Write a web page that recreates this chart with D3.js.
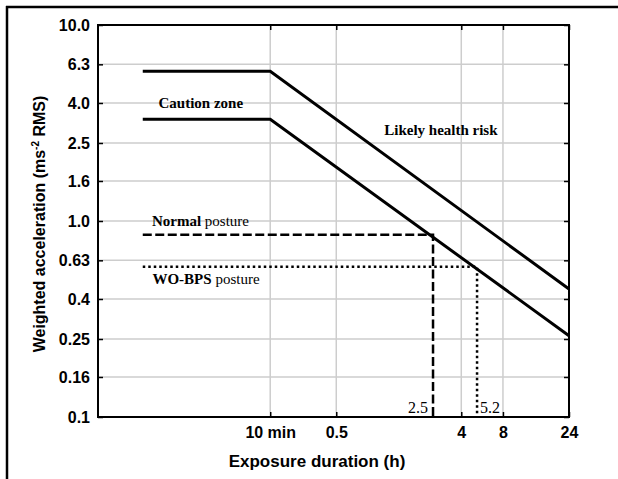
<!DOCTYPE html>
<html>
<head>
<meta charset="utf-8">
<script src="https://cdnjs.cloudflare.com/ajax/libs/d3/7.8.5/d3.min.js"></script>
<style>
  body { margin: 0; background: #fff; }
  .sans { font-family: "Liberation Sans", Arial, sans-serif; font-weight: bold; }
  .serif { font-family: "Liberation Serif", "Times New Roman", serif; }
</style>
</head>
<body>
<script>

// exposure limits, x in hours, y in m/s^2
var upperLine = [[0.02, 5.8], [1/6, 5.8], [24, 0.45]];
var lowerLine = [[0.02, 3.3], [1/6, 3.3], [24, 0.26]];
var normalPosture = [[0.02, 0.85], [2.5, 0.85], [2.5, 0.1]];
var woBpsPosture = [[0.02, 0.585], [5.2, 0.585], [5.2, 0.1]];

var yTicks = [0.1, 0.16, 0.25, 0.4, 0.63, 1.0, 1.6, 2.5, 4.0, 6.3, 10.0];
var yLabels = ["0.1", "0.16", "0.25", "0.4", "0.63", "1.0", "1.6", "2.5", "4.0", "6.3", "10.0"];
var xTicks = [1/6, 0.5, 4, 8, 24];
var xLabels = ["10 min", "0.5", "4", "8", "24"];

const w = 618, h = 479;
const margin = {top: 25, right: 49, bottom: 62, left: 98};
const width = w - margin.left - margin.right,
    height = h - margin.top - margin.bottom;

const svg = d3.select("body").append("svg")
    .attr("width", w)
    .attr("height", h);

// outer frame (top + left only)
svg.append("path")
    .attr("d", "M6,7H618M7,6V479")
    .attr("fill", "none")
    .attr("stroke", "#000")
    .attr("stroke-width", 2.5);

const g = svg.append("g")
    .attr("transform", "translate(" + margin.left + "," + margin.top + ")");

var x = d3.scaleLog().domain([0.0095, 24]).range([0, width]);
var y = d3.scaleLog().domain([0.1, 10]).range([height, 0]);

// grid
g.append("g").selectAll("line")
    .data(yTicks.slice(1, -1))
    .join("line")
    .attr("x1", 0).attr("x2", width)
    .attr("y1", d => y(d)).attr("y2", d => y(d))
    .attr("stroke", "#cdcdcd").attr("stroke-width", 1.5);

g.append("g").selectAll("line")
    .data(xTicks.slice(0, -1))
    .join("line")
    .attr("x1", d => x(d)).attr("x2", d => x(d))
    .attr("y1", 0).attr("y2", height)
    .attr("stroke", "#cdcdcd").attr("stroke-width", 1.5);

// axes, ticks pointing in
var yAxis = d3.axisLeft(y).tickValues(yTicks).tickSize(-5).tickPadding(8)
    .tickFormat((d, i) => yLabels[i]);
var yAxisR = d3.axisRight(y).tickValues(yTicks).tickSize(-5).tickFormat("");
var xAxis = d3.axisBottom(x).tickValues(xTicks).tickSize(-5).tickPadding(10)
    .tickFormat((d, i) => xLabels[i]);
var xAxisT = d3.axisTop(x).tickValues(xTicks).tickSize(-5).tickFormat("");

function styleAxis(sel) {
    sel.select(".domain").remove();
    sel.selectAll(".tick line").attr("stroke", "#000").attr("stroke-width", 1.5);
    sel.selectAll("text").attr("class", "sans").attr("fill", "#000");
}

g.append("g").call(yAxis).call(styleAxis)
    .selectAll("text").style("font-size", "16px");
g.append("g").attr("transform", "translate(" + width + ",0)").call(yAxisR).call(styleAxis);
g.append("g").attr("transform", "translate(0," + height + ")").call(xAxis).call(styleAxis)
    .selectAll("text").style("font-size", "16px");
g.append("g").call(xAxisT).call(styleAxis);

// plot box
g.append("rect")
    .attr("width", width).attr("height", height)
    .attr("fill", "none").attr("stroke", "#000").attr("stroke-width", 2);

var line = d3.line().x(d => x(d[0])).y(d => y(d[1]));

g.append("path").datum(upperLine).attr("d", line)
    .attr("fill", "none").attr("stroke", "#000").attr("stroke-width", 3);
g.append("path").datum(lowerLine).attr("d", line)
    .attr("fill", "none").attr("stroke", "#000").attr("stroke-width", 3);
g.append("path").datum(normalPosture).attr("d", line)
    .attr("fill", "none").attr("stroke", "#000").attr("stroke-width", 2.5)
    .attr("stroke-dasharray", "9,3.5");
g.append("path").datum(woBpsPosture).attr("d", line)
    .attr("fill", "none").attr("stroke", "#000").attr("stroke-width", 2.5)
    .attr("stroke-dasharray", "2.5,3");

// annotations
g.append("text").attr("class", "serif")
    .attr("x", x(0.026)).attr("y", y(3.77))
    .style("font-size", "15px").style("font-weight", "bold")
    .text("Caution zone");

g.append("text").attr("class", "serif")
    .attr("x", x(1.11)).attr("y", y(2.75))
    .style("font-size", "15px").style("font-weight", "bold")
    .text("Likely health risk");

var t1 = g.append("text").attr("class", "serif")
    .attr("x", x(0.0233)).attr("y", y(0.943))
    .style("font-size", "15px");
t1.append("tspan").style("font-weight", "bold").text("Normal");
t1.append("tspan").text(" posture");

var t2 = g.append("text").attr("class", "serif")
    .attr("x", x(0.0235)).attr("y", y(0.477))
    .style("font-size", "15px");
t2.append("tspan").style("font-weight", "bold").text("WO-BPS");
t2.append("tspan").text(" posture");

g.append("text").attr("class", "serif")
    .attr("x", x(2.3)).attr("y", y(0.105))
    .attr("text-anchor", "end")
    .style("font-size", "16px")
    .text("2.5");

g.append("text").attr("class", "serif")
    .attr("x", x(5.47)).attr("y", y(0.105))
    .style("font-size", "16px")
    .text("5.2");

// axis titles
svg.append("text").attr("class", "sans")
    .attr("x", 317).attr("y", 467)
    .attr("text-anchor", "middle")
    .style("font-size", "17px")
    .text("Exposure duration (h)");

var yt = svg.append("text").attr("class", "sans")
    .attr("transform", "translate(45,224) rotate(-90)")
    .attr("text-anchor", "middle")
    .style("font-size", "16px");
yt.append("tspan").text("Weighted acceleration (ms");
yt.append("tspan").attr("dy", -6).style("font-size", "10px").text("-2");
yt.append("tspan").attr("dy", 6).text(" RMS)");

</script>
</body>
</html>
